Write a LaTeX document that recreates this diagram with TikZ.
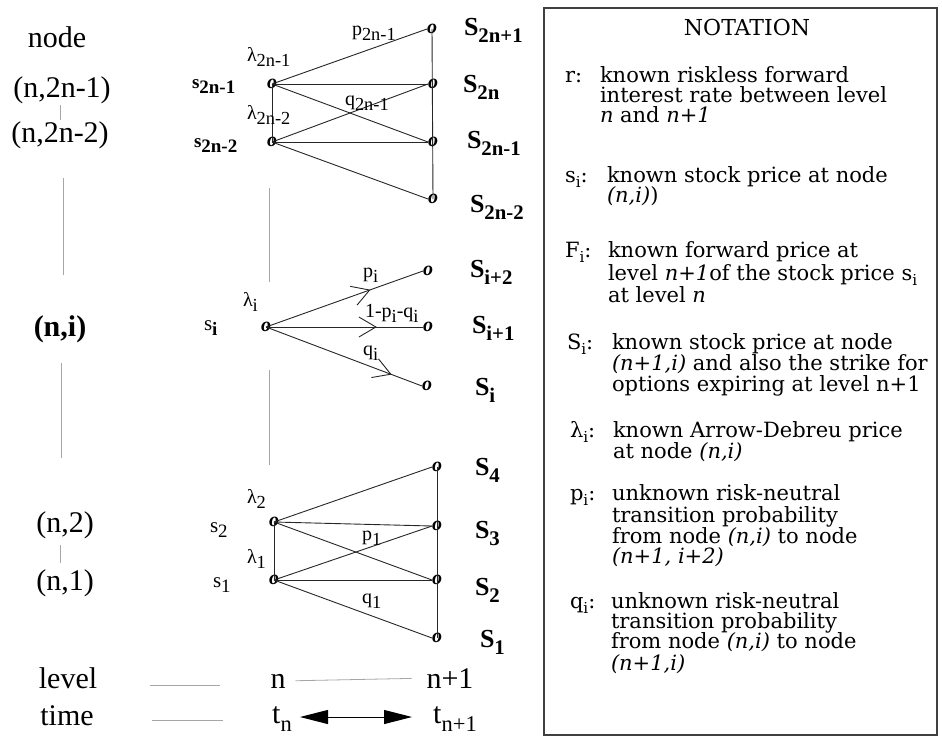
\documentclass[tikz,border=0pt]{standalone}
\usepackage{fontspec}
\usepackage{graphicx}
\setmainfont{Liberation Serif}
\newfontfamily\boxfont{DejaVu Serif}
\usetikzlibrary{arrows.meta,decorations.markings}
\newcommand\sbs[2][0.72]{\raisebox{-0.27em}{\scalebox{#1}{#2}}}
\tikzset{
 lab/.style={inner sep=0pt, outer sep=0pt},
 big/.style={lab, font=\fontsize{30}{32}\selectfont, anchor=base},
 bigb/.style={lab, font=\fontsize{30}{32}\selectfont\bfseries, anchor=base},
 slab/.style={lab, font=\fontsize{26}{30}\selectfont\bfseries, anchor=base west},
 sm/.style={lab, font=\fontsize{20}{22}\selectfont, anchor=base west},
 smb/.style={lab, font=\fontsize{19}{22}\selectfont\bfseries, anchor=base west},
 onode/.style={lab, font=\fontsize{20}{22}\selectfont\bfseries\itshape},
 boxtxt/.style={lab, font=\boxfont\fontsize{21}{21}\selectfont, anchor=base west},
 edge/.style={draw=black!85, line width=0.9pt},
 guide/.style={draw=black!35, line width=0.8pt},
 chev/.style={decoration={markings, mark=at position #1 with {\draw[line width=0.9pt] (-17pt,10pt) -- (0pt,0pt) -- (-17pt,-10pt);}}, postaction={decorate}},
}
\begin{document}
\begin{tikzpicture}[x=1pt,y=-1pt]
\useasboundingbox (0,0) rectangle (942,740);

% ---------- left column ----------
\node[big] (hnode) at (57,47) {node};
\node[big] (L1) at (62,97) {(n,2n-1)};
\node[big] (L2) at (60,142) {(n,2n-2)};
\node[bigb] (Li) at (60,336) {(n,i)};
\node[big] (Lb2) at (65,532) {(n,2)};
\node[big] (Lb1) at (65,590) {(n,1)};
\node[big] (hlevel) at (68,688) {level};
\node[big] (htime) at (67,725) {time};

\coordinate (gA) at (60,105); \coordinate (gB) at (60,120);
\draw[guide] (gA) -- (gB);
\coordinate (g1) at (63,178); \coordinate (g2) at (63,275);
\coordinate (g3) at (61,363); \coordinate (g4) at (61,458);
\draw[guide] (g1) -- (g2);
\draw[guide] (g3) -- (g4);
\coordinate (g5) at (60,545); \coordinate (g6) at (60,563);
\draw[guide] (g5) -- (g6);
\coordinate (g7) at (269,188); \coordinate (g8) at (269,282);
\coordinate (g9) at (269,370); \coordinate (g10) at (269,465);
\draw[guide] (g7) -- (g8);
\draw[guide] (g9) -- (g10);
\coordinate (lv1) at (150,685); \coordinate (lv2) at (220,685);
\coordinate (tm1) at (152,720); \coordinate (tm2) at (223,720);
\draw[guide] (lv1) -- (lv2);
\draw[guide] (tm1) -- (tm2);

% ---------- top cluster ----------
\node[onode] (a1) at (272,84) {o};
\node[onode] (a2) at (272,142) {o};
\node[onode] (b1) at (432,29) {o};
\node[onode] (b2) at (433,84) {o};
\node[onode] (b3) at (433,142) {o};
\node[onode] (b4) at (433,199) {o};
\draw[edge] (a1.center) -- (a2.center);
\draw[edge] (b1.center) -- (b4.center);
\draw[edge] (a1.center) -- (b1.west);
\draw[edge] (a1.center) -- (b2.west);
\draw[edge] (a1.center) -- (b3.west);
\draw[edge] (a2.center) -- (b2.west);
\draw[edge] (a2.center) -- (b3.west);
\draw[edge] (a2.center) -- (b4.west);
\node[smb] (s2n1) at (192,88) {s\sbs[1]{2n-1}};
\node[smb] (s2n2) at (194,147) {s\sbs[1]{2n-2}};
\node[sm] (l2n1) at (247,61) {λ\sbs[0.92]{2n-1}};
\node[sm] (l2n2) at (247,119) {λ\sbs[0.92]{2n-2}};
\node[sm] (p2n1) at (352,35) {p\sbs[0.92]{2n-1}};
\node[sm] (q2n1) at (345,105) {q\sbs[0.92]{2n-1}};
\node[slab] (S2n1) at (464,35) {S\sbs[0.8]{2n+1}};
\node[slab] (S2n) at (463,92) {S\sbs[0.8]{2n}};
\node[slab] (S2nm1) at (467,148) {S\sbs[0.8]{2n-1}};
\node[slab] (S2nm2) at (470,212) {S\sbs[0.8]{2n-2}};

% ---------- middle fan ----------
\node[onode] (ai) at (266,327) {o};
\node[onode] (c1) at (428,271) {o};
\node[onode] (c2) at (428,327) {o};
\node[onode] (c3) at (427,386) {o};
\draw[edge, chev=0.66] (ai.center) -- (c1.west);
\draw[edge, chev=0.70] (ai.center) -- (c2.west);
\draw[edge, chev=0.80] (ai.center) -- (c3.west);
\node[lab, font=\fontsize{21}{22}\selectfont, anchor=base west] (si) at (204,330) {s\textbf{\sbs[0.9]{i}}};
\node[sm] (li) at (243,306) {λ\sbs[0.92]{i}};
\node[sm] (pi) at (363,277) {p\sbs[0.92]{i}};
\node[sm] (mpi) at (365,317) {1-p\sbs[0.92]{i}-q\sbs[0.92]{i}};
\node[sm] (qi) at (363,355) {q\sbs[0.92]{i}};
\node[slab] (Si2) at (470,277) {S\sbs[0.8]{i+2}};
\node[slab] (Si1) at (472,333) {S\sbs[0.8]{i+1}};
\node[slab] (Si) at (475,395) {S\sbs[0.8]{i}};

% ---------- bottom cluster ----------
\node[onode] (d2) at (274,522) {o};
\node[onode] (d1) at (274,580) {o};
\node[onode] (e4) at (437,467) {o};
\node[onode] (e3) at (437,526) {o};
\node[onode] (e2) at (437,580) {o};
\node[onode] (e1) at (437,638) {o};
\draw[edge] (d2.center) -- (d1.center);
\draw[edge] (e4.center) -- (e1.center);
\draw[edge] (d2.center) -- (e4.west);
\draw[edge] (d2.center) -- (e3.west);
\draw[edge] (d2.center) -- (e2.west);
\draw[edge] (d1.center) -- (e3.west);
\draw[edge] (d1.center) -- (e2.west);
\draw[edge] (d1.center) -- (e1.west);
\node[lab, font=\fontsize{21}{22}\selectfont, anchor=base west] (s2) at (210,532) {s\sbs[0.9]{2}};
\node[lab, font=\fontsize{21}{22}\selectfont, anchor=base west] (s1) at (213,587) {s\sbs[0.9]{1}};
\node[sm] (l2) at (247,503) {λ\sbs[0.92]{2}};
\node[sm] (l1) at (247,563) {λ\sbs[0.92]{1}};
\node[sm] (p1) at (362,540) {p\sbs[0.92]{1}};
\node[sm] (q1) at (362,603) {q\sbs[0.92]{1}};
\node[slab] (S4) at (475,475) {S\sbs[0.8]{4}};
\node[slab] (S3) at (475,538) {S\sbs[0.8]{3}};
\node[slab] (S2) at (475,595) {S\sbs[0.8]{2}};
\node[slab] (S1) at (480,647) {S\sbs[0.8]{1}};

% ---------- level / time ----------
\node[big] (lvn) at (278,688) {n};
\node[big] (lvn1) at (450,688) {n+1};
\draw[guide, shorten <=10pt, shorten >=15pt] (lvn.east) -- (lvn1.west);
\node[big] (tn) at (282,723) {t\sbs[0.75]{n}};
\node[big] (tn1) at (455,723) {t\sbs[0.75]{n+1}};
\coordinate (ta) at (300,717);
\coordinate (tb) at (412,717);
\draw[line width=1pt, {Triangle[length=28pt,width=14pt]}-{Triangle[length=28pt,width=14pt]}] (ta) -- (tb);

% ---------- notation box ----------
\draw[draw=black!75, line width=1.1pt] (544,8) rectangle (937,735);
\node[lab, font=\boxfont\fontsize{22}{22}\selectfont, anchor=base] (title) at (747,35) {NOTATION};

\node[boxtxt] (rL) at (565,82) {r:};
\node[boxtxt] (r1) at (600,82) {known riskless forward};
\node[boxtxt] (r2) at (600,102) {interest rate between level};
\node[boxtxt] (r3) at (600,122) {\textit{n} and \textit{n+1}};

\node[boxtxt] (sL) at (565,182) {s\sbs{i}:};
\node[boxtxt] (s1t) at (607,182) {known stock price at node};
\node[boxtxt] (s2t) at (607,202) {\textit{(n,i)})};

\node[boxtxt] (FL) at (565,257) {F\sbs{i}:};
\node[boxtxt] (F1) at (608,257) {known forward price at};
\node[boxtxt] (F2) at (608,280) {level \textit{n+1}of the stock price s\sbs{i}};
\node[boxtxt] (F3) at (608,302) {at level \textit{n}};

\node[boxtxt] (SL) at (567,349) {S\sbs{i}:};
\node[boxtxt] (S1t) at (612,349) {known stock price at node};
\node[boxtxt] (S2t) at (612,370) {\textit{(n+1,i)} and also the strike for};
\node[boxtxt] (S3t) at (612,391) {options expiring at level n+1};

\node[boxtxt] (lL) at (570,437) {λ\sbs{i}:};
\node[boxtxt] (l1t) at (613,437) {known Arrow-Debreu price};
\node[boxtxt] (l2t) at (613,458) {at node \textit{(n,i)}};

\node[boxtxt] (pL) at (570,500) {p\sbs{i}:};
\node[boxtxt] (p1t) at (612,500) {unknown risk-neutral};
\node[boxtxt] (p2t) at (612,522) {transition probability};
\node[boxtxt] (p3t) at (612,543) {from node \textit{(n,i)} to node};
\node[boxtxt] (p4t) at (612,563) {\textit{(n+1, i+2)}};

\node[boxtxt] (qL) at (570,608) {q\sbs{i}:};
\node[boxtxt] (q1t) at (611,608) {unknown risk-neutral};
\node[boxtxt] (q2t) at (611,628) {transition probability};
\node[boxtxt] (q3t) at (611,648) {from node \textit{(n,i)} to node};
\node[boxtxt] (q4t) at (611,670) {\textit{(n+1,i)}};
\end{tikzpicture}
\end{document}
